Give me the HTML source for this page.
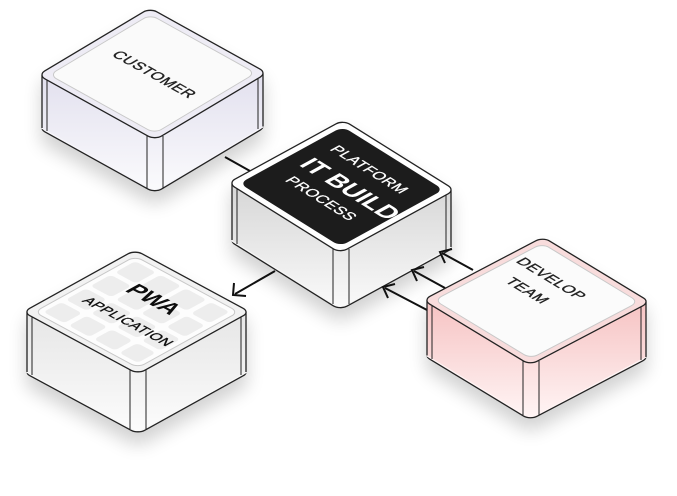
<!DOCTYPE html>
<html><head><meta charset="utf-8"><style>
html,body{margin:0;padding:0;background:#fff;}
svg{display:block;font-family:"Liberation Sans",sans-serif;}
</style></head><body>
<svg width="677" height="496" viewBox="0 0 677 496" xmlns="http://www.w3.org/2000/svg">
<defs>
<linearGradient id="gs" x1="0" y1="0" x2="0" y2="1"><stop offset="0" stop-color="#e2e0ee"/><stop offset="1" stop-color="#fbfbfd"/></linearGradient>
<linearGradient id="gc" x1="0" y1="0" x2="0" y2="1"><stop offset="0" stop-color="#d6d6d6"/><stop offset="1" stop-color="#fafafa"/></linearGradient>
<linearGradient id="gp" x1="0" y1="0" x2="0" y2="1"><stop offset="0" stop-color="#f6c2c2"/><stop offset="1" stop-color="#fff5f5"/></linearGradient>
<linearGradient id="gw" x1="0" y1="0" x2="0" y2="1"><stop offset="0" stop-color="#e6e6e6"/><stop offset="1" stop-color="#fcfcfc"/></linearGradient>
<filter id="sh" x="-30%" y="-30%" width="160%" height="170%"><feGaussianBlur in="SourceAlpha" stdDeviation="9"/><feOffset dy="12"/><feComponentTransfer><feFuncA type="linear" slope="0.18"/></feComponentTransfer><feMerge><feMergeNode/><feMergeNode in="SourceGraphic"/></feMerge></filter>
<clipPath id="cc"><polygon points="36,125.8 154.8,188.7 269,124.2 269,500 36,500"/></clipPath>
<clipPath id="cp"><polygon points="21,369.9 138,429.8 252,370.1 252,500 21,500"/></clipPath>
<clipPath id="cm"><polygon points="226,238.2 340.6,305.7 457,244.8 457,500 226,500"/></clipPath>
<clipPath id="cd"><polygon points="421,353.3 530.4,415.8 652,354.7 652,500 421,500"/></clipPath>
</defs>

<line x1="225" y1="157" x2="250" y2="171" stroke="#111" stroke-width="2"/>

<!-- CUSTOMER -->
<g filter="url(#sh)">
<rect width="100" height="100" rx="6" transform="matrix(1.17,0.65,-1.12,0.67,150,61)" fill="#f6f5fa"/>
<polygon points="42,74.8 42,127.8 154.8,190.7 263,126.2 263,73.2 154.8,137.7" fill="url(#gs)"/>
<g clip-path="url(#cc)"><rect width="100" height="100" rx="6" transform="matrix(1.17,0.65,-1.12,0.67,150,61)" fill="none" stroke="#222" stroke-width="1.3" vector-effect="non-scaling-stroke"/></g>
<g stroke="#222">
<line x1="42" y1="75" x2="42" y2="128" stroke-width="1.3"/>
<line x1="263" y1="73.5" x2="263" y2="126.5" stroke-width="1.3"/>
<line x1="47" y1="80" x2="47" y2="131" stroke-width="1"/>
<line x1="258" y1="79" x2="258" y2="129" stroke-width="1"/>
<line x1="147" y1="136" x2="147" y2="188" stroke-width="1"/>
<line x1="163" y1="136" x2="163" y2="188" stroke-width="1"/>
</g>
<rect width="100" height="100" rx="6" transform="matrix(1.17,0.65,-1.12,0.67,150,8)" fill="#eeecf5" stroke="#222" stroke-width="1.3" vector-effect="non-scaling-stroke"/>
<rect x="5" y="5" width="90" height="90" rx="6" transform="matrix(1.17,0.65,-1.12,0.67,150,8)" fill="#fafafa" stroke="#c8c8c8" stroke-width="1" vector-effect="non-scaling-stroke"/>
<text transform="matrix(0.873,0.485,-0.862,0.515,150,77)" text-anchor="middle" font-size="15" fill="#222" stroke="#222" stroke-width="0.4" letter-spacing="0.5">CUSTOMER</text>
</g>

<line x1="275" y1="271" x2="235" y2="294" stroke="#111" stroke-width="2"/>
<polyline points="234,283 233,295 246,296" fill="none" stroke="#111" stroke-width="2"/>

<!-- PWA -->
<g filter="url(#sh)">
<rect width="100" height="100" rx="6" transform="matrix(1.15,0.62,-1.12,0.62,135,310)" fill="#f8f8f8"/>
<polygon points="27,311.9 27,371.9 138,431.8 246,372.1 246,312.1 138,371.8" fill="url(#gw)"/>
<g clip-path="url(#cp)"><rect width="100" height="100" rx="6" transform="matrix(1.15,0.62,-1.12,0.62,135,310)" fill="none" stroke="#222" stroke-width="1.3" vector-effect="non-scaling-stroke"/></g>
<g stroke="#222">
<line x1="27" y1="312" x2="27" y2="372" stroke-width="1.3"/>
<line x1="246" y1="312" x2="246" y2="372" stroke-width="1.3"/>
<line x1="32" y1="317" x2="32" y2="375" stroke-width="1"/>
<line x1="241" y1="317" x2="241" y2="375" stroke-width="1"/>
<line x1="130" y1="370" x2="130" y2="429" stroke-width="1"/>
<line x1="146" y1="370" x2="146" y2="429" stroke-width="1"/>
</g>
<rect width="100" height="100" rx="6" transform="matrix(1.15,0.62,-1.12,0.62,135,250)" fill="#f2f2f2" stroke="#222" stroke-width="1.3" vector-effect="non-scaling-stroke"/>
<g transform="matrix(1.15,0.62,-1.12,0.62,135,250)">
<rect x="5" y="5" width="90" height="90" rx="6" fill="#fdfdfd" stroke="#c8c8c8" stroke-width="1" vector-effect="non-scaling-stroke"/>
<g fill="#ededed">
<rect x="9" y="9" width="18" height="18" rx="3"/><rect x="31" y="9" width="18" height="18" rx="3"/><rect x="53" y="9" width="18" height="18" rx="3"/><rect x="75" y="9" width="16" height="18" rx="3"/>
<rect x="9" y="31" width="18" height="18" rx="3"/><rect x="31" y="31" width="18" height="18" rx="3"/><rect x="53" y="31" width="18" height="18" rx="3"/><rect x="75" y="31" width="16" height="18" rx="3"/>
<rect x="9" y="53" width="18" height="18" rx="3"/><rect x="31" y="53" width="18" height="18" rx="3"/><rect x="53" y="53" width="18" height="18" rx="3"/><rect x="75" y="53" width="16" height="18" rx="3"/>
<rect x="9" y="75" width="18" height="16" rx="3"/><rect x="31" y="75" width="18" height="16" rx="3"/><rect x="53" y="75" width="18" height="16" rx="3"/><rect x="75" y="75" width="16" height="16" rx="3"/>
</g></g>
<text transform="matrix(0.878,0.473,-0.875,0.484,147,303)" text-anchor="middle" font-size="23" font-weight="bold" fill="#111">PWA</text>
<text transform="matrix(0.878,0.473,-0.875,0.484,124,324)" text-anchor="middle" font-size="14" fill="#111" stroke="#111" stroke-width="0.4" letter-spacing="0.5">APPLICATION</text>
</g>

<!-- CENTER -->
<g filter="url(#sh)">
<rect width="100" height="100" rx="6" transform="matrix(1.12,0.70,-1.15,0.63,343,177)" fill="#f5f5f5"/>
<polygon points="232,183.2 232,240.2 340.6,307.7 451,246.8 451,189.8 340.6,250.7" fill="url(#gc)"/>
<g clip-path="url(#cm)"><rect width="100" height="100" rx="6" transform="matrix(1.12,0.70,-1.15,0.63,343,177)" fill="none" stroke="#222" stroke-width="1.3" vector-effect="non-scaling-stroke"/></g>
<g stroke="#222">
<line x1="232" y1="183.5" x2="232" y2="240" stroke-width="1.3"/>
<line x1="451" y1="190" x2="451" y2="247" stroke-width="1.3"/>
<line x1="237" y1="189" x2="237" y2="244" stroke-width="1"/>
<line x1="446" y1="195" x2="446" y2="250" stroke-width="1"/>
<line x1="333" y1="249" x2="333" y2="304" stroke-width="1"/>
<line x1="349" y1="249" x2="349" y2="304" stroke-width="1"/>
</g>
<rect width="100" height="100" rx="6" transform="matrix(1.12,0.70,-1.15,0.63,343,120)" fill="#fff" stroke="#222" stroke-width="1.3" vector-effect="non-scaling-stroke"/>
<rect x="5" y="5" width="90" height="90" rx="6" transform="matrix(1.12,0.70,-1.15,0.63,343,120)" fill="#1e1e1e"/>
<text transform="matrix(0.848,0.530,-0.878,0.481,365,172)" text-anchor="middle" font-size="15" fill="#fff" stroke="#fff" stroke-width="0.3" letter-spacing="0.5">PLATFORM</text>
<text transform="matrix(0.848,0.530,-0.878,0.481,343,193)" text-anchor="middle" font-size="25" font-weight="bold" fill="#fff">IT BUILD</text>
<text transform="matrix(0.848,0.530,-0.878,0.481,317,201)" text-anchor="middle" font-size="15" fill="#fff" stroke="#fff" stroke-width="0.3" letter-spacing="0.5">PROCESS</text>
</g>

<g stroke="#111" stroke-width="2" fill="none">
<line x1="473" y1="270" x2="442" y2="253"/><polyline points="452,249 440,252 445,263"/>
<line x1="445" y1="288" x2="414" y2="271"/><polyline points="424,267 412,270 417,281"/>
<line x1="427" y1="310" x2="385" y2="288"/><polyline points="395,284 383,287 388,298"/>
</g>

<!-- DEVELOP TEAM -->
<g filter="url(#sh)">
<rect width="100" height="100" rx="6" transform="matrix(1.07,0.65,-1.20,0.63,543,292)" fill="#fff4f4"/>
<polygon points="427,300.3 427,355.3 530.4,417.8 646,356.7 646,301.7 530.4,362.8" fill="url(#gp)"/>
<g clip-path="url(#cd)"><rect width="100" height="100" rx="6" transform="matrix(1.07,0.65,-1.20,0.63,543,292)" fill="none" stroke="#222" stroke-width="1.3" vector-effect="non-scaling-stroke"/></g>
<g stroke="#222">
<line x1="427" y1="300.5" x2="427" y2="355.5" stroke-width="1.3"/>
<line x1="646" y1="302" x2="646" y2="357" stroke-width="1.3"/>
<line x1="432" y1="306" x2="432" y2="359" stroke-width="1"/>
<line x1="641" y1="307" x2="641" y2="360" stroke-width="1"/>
<line x1="523" y1="361" x2="523" y2="415" stroke-width="1"/>
<line x1="539" y1="361" x2="539" y2="415" stroke-width="1"/>
</g>
<rect width="100" height="100" rx="6" transform="matrix(1.07,0.65,-1.20,0.63,543,237)" fill="#f8dcdc" stroke="#222" stroke-width="1.3" vector-effect="non-scaling-stroke"/>
<rect x="5" y="5" width="90" height="90" rx="6" transform="matrix(1.07,0.65,-1.20,0.63,543,237)" fill="#fbfbfb" stroke="#c8c8c8" stroke-width="1" vector-effect="non-scaling-stroke"/>
<text transform="matrix(0.856,0.52,-0.886,0.465,547,281)" text-anchor="middle" font-size="15" fill="#222" stroke="#222" stroke-width="0.4" letter-spacing="0.5">DEVELOP</text>
<text transform="matrix(0.856,0.52,-0.886,0.465,523,293)" text-anchor="middle" font-size="15" fill="#222" stroke="#222" stroke-width="0.4" letter-spacing="0.5">TEAM</text>
</g>
</svg>
</body></html>
